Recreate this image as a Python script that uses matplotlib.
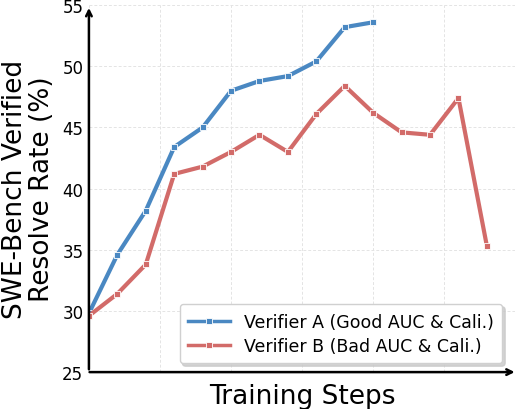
import matplotlib
matplotlib.use("Agg")
from matplotlib import pyplot as plt
import numpy as np

# data
steps_a = list(range(11))
verifier_a = [29.8, 34.6, 38.2, 43.4, 45.0, 48.0, 48.8, 49.2, 50.4, 53.2, 53.6]
steps_b = list(range(15))
verifier_b = [29.6, 31.4, 33.8, 41.2, 41.8, 43.0, 44.4, 43.0, 46.1, 48.4, 46.2,
              44.6, 44.4, 47.4, 35.3]
labels = ["Verifier A (Good AUC & Cali.)", "Verifier B (Bad AUC & Cali.)"]
colors = ["#4a88c2", "#d26b69"]

fig = plt.figure(figsize=(5.2, 4.1), dpi=100)
ax = fig.add_axes([0.171, 0.09, 0.82, 0.895])

for x, y, c, lab in zip([steps_a, steps_b], [verifier_a, verifier_b], colors, labels):
    ax.plot(x, y, '-', color=c, lw=3, marker='s', markersize=5,
            markeredgecolor='white', markeredgewidth=0.6, label=lab, zorder=3)

ax.set_xlim(0, 15)
ax.set_ylim(25, 55)
ax.set_xticks(np.arange(0, 15.1, 2.5))
ax.set_xticklabels([])
ax.set_yticks(range(25, 56, 5))
ax.tick_params(axis='x', length=0)
ax.tick_params(axis='y', length=0, labelsize=12, pad=4)
ax.grid(True, ls=(0, (3, 2)), color='#e4e4e4', lw=0.7, zorder=0)

for s in ax.spines.values():
    s.set_visible(False)
ax.annotate('', xy=(0, 1.0), xytext=(0, 0), xycoords='axes fraction',
            arrowprops=dict(arrowstyle='->', color='black', lw=1.8))
ax.annotate('', xy=(1.005, 0), xytext=(-0.005, 0), xycoords='axes fraction',
            arrowprops=dict(arrowstyle='->', color='black', lw=1.8))

ax.set_ylabel("SWE-Bench Verified\nResolve Rate (%)", fontsize=19, labelpad=5,
              linespacing=1.05)
ax.set_xlabel("Training Steps", fontsize=19, labelpad=4)

leg = ax.legend(loc='lower right', fontsize=12.5, frameon=True,
                shadow={'color': '#c8c8c8', 'alpha': 0.8},
                bbox_to_anchor=(0.99, 0.0), handlelength=2.4, borderpad=0.5,
                labelspacing=0.35, handletextpad=0.8,
                edgecolor='#d0d0d0', framealpha=1)
for h in leg.legend_handles:
    h.set_linewidth(2.5)
    h.set_markersize(4)

fig.savefig("out.png", dpi=100)
